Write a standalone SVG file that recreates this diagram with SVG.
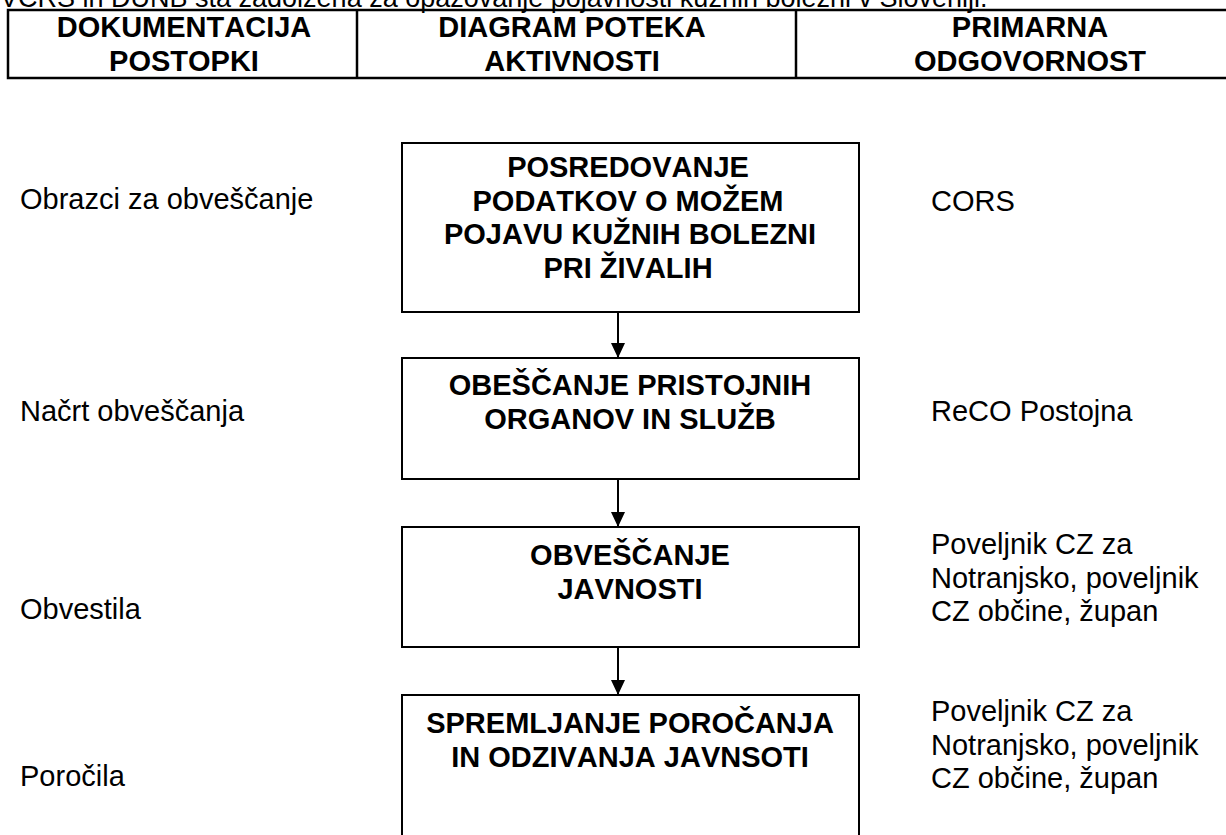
<svg xmlns="http://www.w3.org/2000/svg" width="1226" height="835" viewBox="0 0 1226 835">
<defs>
<style>
.t{font-family:"Liberation Sans",Arial,sans-serif;font-size:29px;fill:#000}
.b{font-family:"Liberation Sans",Arial,sans-serif;font-size:29px;font-weight:bold;fill:#000;text-anchor:middle;font-kerning:none}
.box{fill:#fff;stroke:#000;stroke-width:2}
.ln{stroke:#000;stroke-width:2;fill:none}
</style>
<marker id="ah" markerWidth="15" markerHeight="14" refX="15" refY="7" orient="auto" markerUnits="userSpaceOnUse" viewBox="0 0 15 14">
<path d="M0,0 L15,7 L0,14 Z" fill="#000"/>
</marker>
</defs>
<rect width="1226" height="835" fill="#fff"/>
<text class="t" x="0" y="7" style="font-size:27px">VCRS in DUNB sta zadolžena za opazovanje pojavnosti kužnih bolezni v Sloveniji.</text>
<g id="header">
<rect x="8" y="10" width="1240" height="68" fill="none" stroke="#000" stroke-width="2.5"/>
<line x1="357" y1="10" x2="357" y2="78" stroke="#000" stroke-width="2.5"/>
<line x1="796" y1="10" x2="796" y2="78" stroke="#000" stroke-width="2.5"/>
<text class="b" x="184" y="37">DOKUMENTACIJA</text>
<text class="b" x="184" y="71">POSTOPKI</text>
<text class="b" x="572" y="37">DIAGRAM POTEKA</text>
<text class="b" x="572" y="71">AKTIVNOSTI</text>
<text class="b" x="1030" y="37">PRIMARNA</text>
<text class="b" x="1030" y="71">ODGOVORNOST</text>
</g>
<g id="n1">
<rect class="box" x="402" y="143" width="457" height="169"/>
<text class="b" x="628" y="177">POSREDOVANJE</text>
<text class="b" x="628" y="211">PODATKOV O MOŽEM</text>
<text class="b" x="630" y="244">POJAVU KUŽNIH BOLEZNI</text>
<text class="b" x="628" y="278">PRI ŽIVALIH</text>
</g>
<g id="n2">
<rect class="box" x="402" y="358" width="457" height="121"/>
<text class="b" x="630" y="395">OBEŠČANJE PRISTOJNIH</text>
<text class="b" x="630" y="429">ORGANOV IN SLUŽB</text>
</g>
<g id="n3">
<rect class="box" x="402" y="527" width="457" height="120"/>
<text class="b" x="630" y="565">OBVEŠČANJE</text>
<text class="b" x="630" y="599">JAVNOSTI</text>
</g>
<g id="n4">
<rect class="box" x="402" y="695" width="457" height="160"/>
<text class="b" x="630" y="733">SPREMLJANJE POROČANJA</text>
<text class="b" x="630" y="767">IN ODZIVANJA JAVNSOTI</text>
</g>
<g id="connectors">
<line class="ln" x1="618" y1="312" x2="618" y2="358" marker-end="url(#ah)"/>
<line class="ln" x1="618" y1="479" x2="618" y2="527" marker-end="url(#ah)"/>
<line class="ln" x1="618" y1="647" x2="618" y2="695" marker-end="url(#ah)"/>
</g>
<g id="left">
<text class="t" x="20" y="209">Obrazci za obveščanje</text>
<text class="t" x="20" y="421">Načrt obveščanja</text>
<text class="t" x="20" y="619">Obvestila</text>
<text class="t" x="20" y="786">Poročila</text>
</g>
<g id="right">
<text class="t" x="931" y="211">CORS</text>
<text class="t" x="931" y="421">ReCO Postojna</text>
<text class="t" x="931" y="554">Poveljnik CZ za</text>
<text class="t" x="931" y="588">Notranjsko, poveljnik</text>
<text class="t" x="931" y="621">CZ občine, župan</text>
<text class="t" x="931" y="721">Poveljnik CZ za</text>
<text class="t" x="931" y="755">Notranjsko, poveljnik</text>
<text class="t" x="931" y="788">CZ občine, župan</text>
</g>
</svg>
